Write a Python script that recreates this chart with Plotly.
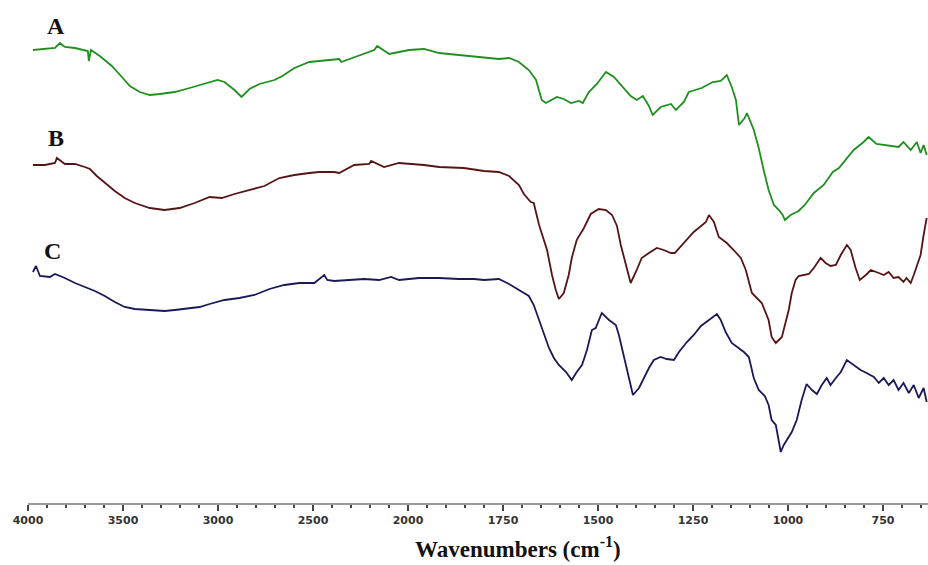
import plotly.graph_objects as go

# ---- data (wavenumber cm^-1, transmittance in arbitrary offset units) ----
wn_A = [3974, 3911, 3858, 3832, 3806, 3753, 3711, 3685, 3680, 3669, 3622, 3559, 3506, 3464, 3412,
        3359, 3307, 3228, 3149, 3071, 3002, 2966, 2913, 2876, 2834, 2782, 2703, 2661, 2598, 2519,
        2467, 2362, 2351, 2309, 2257, 2178, 2162, 2099, 2047, 1997, 1958, 1918, 1866, 1813, 1761,
        1734, 1708, 1682, 1663, 1648, 1637, 1608, 1590, 1571, 1550, 1540, 1524, 1503, 1479, 1458,
        1440, 1414, 1398, 1382, 1366, 1356, 1335, 1308, 1295, 1274, 1261, 1227, 1198, 1177, 1161,
        1148, 1137, 1129, 1114, 1108, 1090, 1077, 1064, 1051, 1037, 1024, 1014, 1008, 993, 972,
        956, 932, 906, 882, 866, 845, 827, 801, 788, 767, 735, 709, 696, 677, 661, 651, 643, 635]
t_A = [447, 448, 449, 454, 450, 449, 447, 446, 436, 447, 441, 431, 420, 411, 405,
       402, 403, 405, 409, 413, 417, 415, 407, 400, 408, 413, 417, 421, 429, 435,
       436, 438, 435, 438, 442, 447, 451, 443, 445, 447, 448, 444, 442, 440, 438,
       439, 435, 427, 417, 397, 394, 400, 398, 394, 396, 394, 405, 413, 425, 420,
       412, 401, 397, 401, 391, 382, 390, 393, 387, 395, 405, 409, 415, 416, 422,
       410, 397, 372, 379, 384, 367, 349, 327, 307, 292, 287, 282, 277, 282, 286,
       292, 304, 312, 325, 329, 339, 347, 355, 360, 353, 351, 350, 355, 347, 355, 344, 352, 342]

wn_B = [3974, 3911, 3858, 3848, 3806, 3753, 3701, 3674, 3638, 3596, 3543, 3491, 3438, 3359, 3281,
        3202, 3123, 3044, 2981, 2913, 2834, 2756, 2677, 2598, 2519, 2467, 2388, 2362, 2283, 2204,
        2194, 2126, 2047, 1984, 1958, 1918, 1853, 1800, 1761, 1734, 1708, 1695, 1677, 1669, 1655,
        1634, 1621, 1611, 1603, 1590, 1577, 1569, 1556, 1537, 1519, 1498, 1479, 1463, 1450, 1440,
        1427, 1414, 1398, 1385, 1366, 1345, 1327, 1308, 1298, 1279, 1261, 1248, 1235, 1216, 1208,
        1195, 1182, 1161, 1143, 1124, 1111, 1095, 1069, 1051, 1043, 1032, 1016, 998, 990, 980,
        972, 945, 932, 914, 901, 888, 874, 861, 845, 835, 822, 811, 795, 782, 761,
        748, 735, 722, 709, 696, 688, 677, 669, 661, 651, 643, 635]
t_B = [332, 332, 334, 339, 333, 333, 330, 328, 321, 314, 306, 299, 294, 289, 287,
       289, 294, 300, 299, 303, 307, 311, 319, 322, 324, 325, 325, 324, 332, 333,
       336, 330, 334, 333, 332, 330, 329, 326, 325, 321, 312, 303, 295, 294, 272,
       247, 222, 207, 198, 204, 222, 239, 257, 269, 283, 288, 287, 282, 271, 252,
       232, 214, 227, 239, 244, 249, 247, 244, 244, 252, 259, 265, 269, 275, 282,
       275, 260, 254, 247, 239, 227, 204, 194, 177, 160, 154, 160, 187, 204, 217,
       221, 223, 229, 239, 234, 231, 232, 242, 252, 247, 229, 217, 222, 227, 224,
       222, 225, 219, 220, 215, 219, 214, 222, 232, 242, 262, 279]

wn_C = [3974, 3958, 3937, 3885, 3858, 3806, 3753, 3701, 3648, 3596, 3543, 3491, 3438, 3359, 3281,
        3228, 3149, 3097, 3044, 2966, 2887, 2808, 2729, 2651, 2572, 2493, 2441, 2425, 2388, 2309,
        2231, 2152, 2089, 2047, 1971, 1918, 1866, 1826, 1800, 1761, 1734, 1708, 1682, 1669, 1655,
        1642, 1629, 1616, 1603, 1584, 1569, 1556, 1542, 1529, 1516, 1506, 1490, 1471, 1453, 1445,
        1432, 1419, 1408, 1392, 1379, 1366, 1353, 1335, 1319, 1300, 1287, 1266, 1248, 1229, 1208,
        1187, 1177, 1164, 1148, 1135, 1116, 1103, 1090, 1077, 1061, 1051, 1043, 1032, 1024, 1019,
        1011, 1003, 990, 977, 964, 951, 937, 924, 911, 898, 888, 874, 861, 845, 827,
        809, 793, 774, 761, 748, 735, 722, 709, 696, 682, 669, 656, 643, 635]
t_C = [225, 231, 221, 220, 223, 219, 214, 210, 206, 201, 195, 190, 188, 187, 186,
       187, 189, 190, 193, 197, 199, 202, 208, 212, 214, 214, 222, 217, 216, 217,
       218, 217, 220, 217, 219, 219, 218, 218, 217, 218, 213, 207, 201, 192, 177,
       162, 149, 139, 132, 125, 117, 125, 132, 147, 167, 169, 184, 177, 172, 162,
       142, 122, 102, 109, 119, 129, 137, 140, 138, 137, 145, 155, 162, 171, 177,
       183, 177, 165, 154, 150, 145, 140, 119, 107, 101, 92, 77, 72, 57, 45,
       52, 57, 65, 77, 97, 113, 107, 103, 112, 119, 112, 119, 125, 137, 132,
       127, 124, 120, 114, 119, 112, 117, 107, 114, 104, 112, 99, 109, 95]

tick_wn = [4000, 3500, 3000, 2500, 2000, 1750, 1500, 1250, 1000, 750]
series = [("A", wn_A, t_A, "#1f8f1f"),
          ("B", wn_B, t_B, "#561414"),
          ("C", wn_C, t_C, "#19195a")]


def to_axis(w):
    # split-scale FTIR axis: region below 2000 cm-1 is expanded 2x
    return 4000 - w if w >= 2000 else 2000 + 2 * (2000 - w)


fig = go.Figure()
for name, wn, t, color in series:
    fig.add_trace(go.Scatter(x=[to_axis(w) for w in wn], y=t, mode="lines", name=name,
                             line=dict(color=color, width=1.8), showlegend=False))

W, H = 928, 565
L, B = 28, 62
plot_w, plot_h = W - L, H - B


def px(xp):
    return (xp - L) / plot_w


def py(yp):
    return 1 - yp / plot_h


for name, xp, yp in [("A", 56, 26), ("B", 56, 138), ("C", 52, 251)]:
    fig.add_annotation(text=f"<b>{name}</b>", x=px(xp), y=py(yp), xref="paper", yref="paper",
                       showarrow=False, xanchor="center", yanchor="middle",
                       font=dict(family="Liberation Serif", size=24, color="#111"))

fig.add_annotation(text="<b>Wavenumbers (cm<sup>-1</sup>)</b>", x=px(518), y=py(564),
                   xref="paper", yref="paper", showarrow=False, xanchor="center", yanchor="bottom",
                   font=dict(family="Liberation Serif", size=23, color="#111"))

fig.update_layout(
    width=W, height=H,
    margin=dict(l=L, r=0, t=0, b=B),
    paper_bgcolor="white", plot_bgcolor="white",
    xaxis=dict(range=[0, 4737], tickmode="array",
               tickvals=[to_axis(w) for w in tick_wn],
               ticktext=[f"<b>{w}</b>" for w in tick_wn],
               ticks="outside", ticklen=6, tickwidth=2, tickcolor="#444",
               showline=True, linecolor="#9a9a9a", linewidth=2,
               showgrid=False, zeroline=False,
               tickfont=dict(family="DejaVu Sans", size=11, color="#333"),
               minor=dict(tickmode="linear", tick0=0, dtick=100, ticks="outside",
                          ticklen=3, tickwidth=2, tickcolor="#444")),
    yaxis=dict(visible=False, range=[-6, 497], fixedrange=True),
)

fig.write_html("out.html")
